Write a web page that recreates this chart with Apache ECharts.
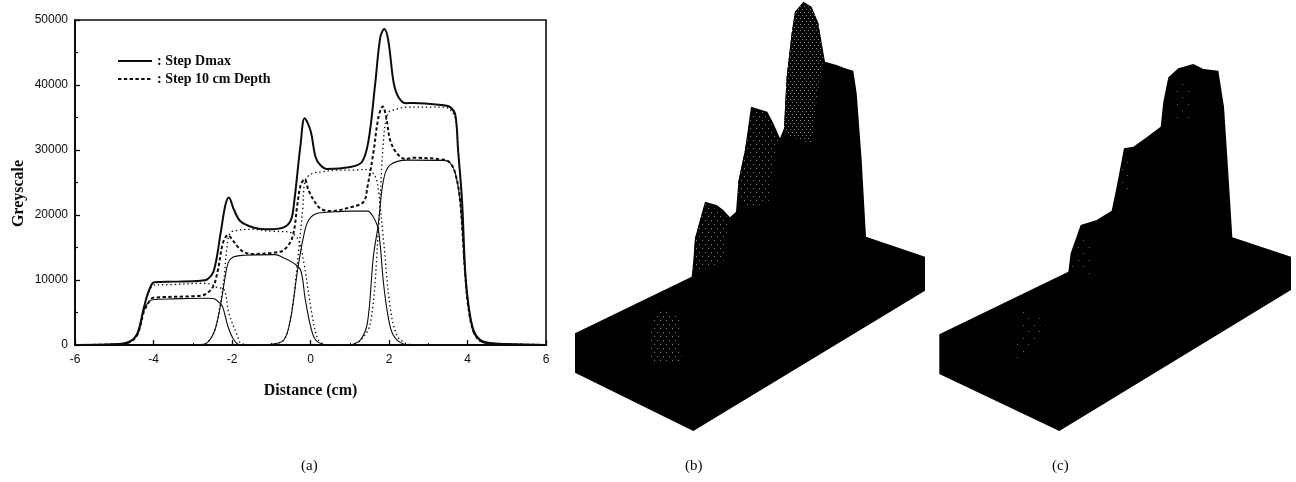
<!DOCTYPE html>
<html>
<head>
<meta charset="utf-8">
<style>html,body{margin:0;padding:0;background:#fff}#c{width:1296px;height:482px}</style>
<script src="https://cdn.jsdelivr.net/npm/echarts@6/dist/echarts.min.js"></script>
</head>
<body>
<div id="c"></div>
<script>
// Panel (a): [distance cm, greyscale]
const dmaxTotal = [[-6,0],[-5,100],[-4.62,500],[-4.41,1800],[-4.24,5900],[-4.11,8460],[-3.98,9650],[-3.47,9750],[-2.8,9900],[-2.63,10100],[-2.46,11500],[-2.29,17200],[-2.17,21500],[-2.08,22700],[-1.95,20800],[-1.78,19000],[-1.44,18050],[-1.1,17800],[-0.68,18100],[-0.5,19200],[-0.42,21800],[-0.25,31000],[-0.15,34900],[0,33000],[0.13,28900],[0.25,27700],[0.42,27080],[1.02,27400],[1.31,28150],[1.48,31500],[1.65,40300],[1.78,47400],[1.88,48600],[1.98,46900],[2.12,40300],[2.24,38150],[2.42,37200],[2.62,37250],[3.38,36900],[3.56,36600],[3.69,35400],[3.76,30000],[3.86,22300],[3.94,11500],[4.02,6400],[4.15,2300],[4.32,800],[4.57,300],[5,150],[6,0]];
const depthTotal = [[-6,0],[-5,100],[-4.62,400],[-4.41,1600],[-4.24,5200],[-4.07,7000],[-3.98,7300],[-3,7500],[-2.72,7700],[-2.49,8900],[-2.36,11500],[-2.23,15700],[-2.1,16900],[-1.98,16100],[-1.85,15100],[-1.7,14300],[-1.5,14000],[-0.93,14200],[-0.68,14600],[-0.46,16600],[-0.33,21800],[-0.25,24600],[-0.15,25500],[-0.05,23800],[0.08,22300],[0.25,21000],[0.5,20600],[1.02,21200],[1.35,22000],[1.45,24300],[1.6,29500],[1.73,35000],[1.84,36700],[1.93,35000],[2.03,31500],[2.2,29500],[2.42,28600],[2.6,28800],[3.4,28500],[3.56,28000],[3.69,26400],[3.81,22300],[3.94,11000],[4.02,5900],[4.15,2100],[4.32,700],[4.6,250],[5,120],[6,0]];
const dmaxStep1 = [[-4.8,0],[-4.62,400],[-4.41,1600],[-4.24,5400],[-4.11,6700],[-3.98,7000],[-3.5,7100],[-2.6,7200],[-2.45,7100],[-2.34,6600],[-2.24,5900],[-2.1,2800],[-1.95,770],[-1.78,0],[-1.5,0]];
const dmaxStep2 = [[-3,0],[-2.72,100],[-2.54,1000],[-2.41,2800],[-2.28,6500],[-2.2,9500],[-2.1,12600],[-1.98,13500],[-1.7,13800],[-0.9,13900],[-0.68,13400],[-0.43,12600],[-0.25,11500],[-0.13,6900],[0.05,1800],[0.2,400],[0.5,0]];
const dmaxStep3 = [[-1.02,100],[-0.68,770],[-0.5,4300],[-0.33,11500],[-0.18,16600],[-0.05,19200],[0.2,20300],[0.65,20500],[1.02,20600],[1.45,20600],[1.6,19700],[1.73,17700],[1.86,9500],[1.98,4300],[2.11,1500],[2.37,150],[2.6,0]];
const dmaxStep4 = [[1.02,0],[1.27,770],[1.45,3400],[1.6,13500],[1.73,18700],[1.86,25400],[2.03,27700],[2.47,28450],[3.4,28400],[3.56,28000],[3.69,26400],[3.81,22300],[3.94,11200],[4.02,6100],[4.15,2200],[4.32,600],[4.6,100]];
const depthStep1 = [[-4.8,0],[-4.62,450],[-4.41,1700],[-4.24,6000],[-4.11,8300],[-3.98,9200],[-3.5,9300],[-2.72,9500],[-2.5,9300],[-2.4,8900],[-2.2,8500],[-2.08,4900],[-1.85,1200],[-1.78,300],[-1.5,0]];
const depthStep2 = [[-3,0],[-2.72,100],[-2.54,1000],[-2.41,2800],[-2.28,7000],[-2.2,10500],[-2.13,15000],[-2.05,17200],[-1.9,17600],[-1.5,17800],[-1,17500],[-0.58,17400],[-0.33,16400],[-0.18,13000],[0.05,4300],[0.2,770],[0.38,0]];
const depthStep3 = [[-1.02,100],[-0.68,770],[-0.5,4300],[-0.3,14600],[-0.2,20800],[-0.13,25400],[0.05,26400],[0.25,26600],[0.69,26900],[1.02,26900],[1.45,27000],[1.65,25900],[1.73,23800],[1.86,16100],[2.03,5800],[2.2,1500],[2.42,300],[2.7,0]];
const depthStep4 = [[1.02,0],[1.27,700],[1.53,3400],[1.73,17700],[1.86,31500],[1.98,35700],[2.2,36300],[2.47,36600],[3.4,36600],[3.56,36200],[3.69,34800],[3.76,30000],[3.86,21500],[3.94,11000],[4.02,5900],[4.15,2000],[4.32,600],[4.6,200]];

const xTicks = [-6, 6, 2];
const yTicks = [0, 50000, 10000];
const legendNames = ['Step Dmax', 'Step 10 cm Depth'];
const panelLabels = ['(a)', '(b)', '(c)'];

const reliefB = [[45,1000],[395,830],[400,780],[405,715],[435,605],[470,615],[490,630],[510,652],[528,635],[535,545],[555,450],[573,320],[622,335],[640,370],[660,415],[672,385],[680,230],[695,100],[705,35],[730,5],[755,20],[775,70],[795,185],[830,195],[855,205],[880,212],[890,280],[905,480],[918,710],[1095,770],[1095,872],[400,1293],[45,1118]];
const stippleB = [
  [[705,35],[730,10],[755,25],[775,70],[790,180],[770,300],[755,430],[690,410],[672,385],[680,230],[695,100]],
  [[575,325],[620,340],[655,415],[640,500],[625,610],[560,620],[535,600],[535,545],[555,450]],
  [[435,610],[490,640],[505,655],[490,790],[420,810],[400,810],[405,715]],
  [[295,920],[360,950],[365,1090],[270,1090],[270,990]]
];
const reliefC = [[58,1003],[445,815],[452,760],[482,675],[530,660],[575,632],[590,560],[612,445],[640,440],[680,412],[722,380],[730,305],[745,232],[775,205],[820,192],[850,207],[895,212],[912,320],[925,520],[937,712],[1113,770],[1113,870],[418,1293],[58,1122]];
const stippleC = [
  [[760,250],[810,250],[810,360],[770,370]],
  [[615,450],[640,530],[625,590],[600,540]],
  [[480,690],[515,720],[510,840],[450,800]],
  [[310,920],[380,970],[350,1030],[300,1080],[280,1070]]
];

function dotTile(w, h, col) {
  const t = document.createElement('canvas');
  t.width = w; t.height = h;
  const g = t.getContext('2d');
  g.fillStyle = '#000'; g.fillRect(0, 0, w, h);
  g.fillStyle = col; g.fillRect(0, 0, 1, 1);
  g.fillRect(Math.floor(w / 2), Math.floor(h / 2), 1, 1);
  return {image: t, repeat: 'repeat'};
}
const denseDots = dotTile(4, 6, '#8a8a8a');
const mediumDots = dotTile(6, 8, '#808080');
const sparseDots = dotTile(11, 13, '#666');

const serif = '"Liberation Serif","DejaVu Serif",serif';
const sans = '"Liberation Sans",Arial,sans-serif';
const ink = '#0c0c0c';

function curve(name, data, width, dash) {
  return {
    name, type: 'line', data, xAxisIndex: 0, yAxisIndex: 0, showSymbol: false, symbol: 'none',
    smooth: 0.35, z: width > 1.5 ? 4 : 3, silent: true,
    lineStyle: {color: ink, width, type: dash || 'solid'}, itemStyle: {color: ink}
  };
}
function poly(id, outline, axis, fill) {
  return {
    id, type: 'custom', xAxisIndex: axis, yAxisIndex: axis, clip: false, silent: true,
    coordinateSystem: 'cartesian2d', data: [[0, 0]], z: id.indexOf('dots') >= 0 ? 3 : 2,
    renderItem: (p, api) => ({
      type: 'polygon',
      shape: {points: outline.map(q => api.coord(q))},
      style: {fill: fill, stroke: null}
    })
  };
}
function hiddenAxis(max, gridIndex, inverse) {
  return {type: 'value', gridIndex, min: 0, max, inverse: !!inverse, show: false, splitLine: {show: false}};
}
const dotted = [1.4, 2.8];
const dashed = [3.4, 2.4];

const series = [
  curve(legendNames[0], dmaxTotal, 2),
  curve(legendNames[1], depthTotal, 2, dashed),
  curve('d1', dmaxStep1, 1.1), curve('d2', dmaxStep2, 1.1), curve('d3', dmaxStep3, 1.1), curve('d4', dmaxStep4, 1.1),
  curve('t1', depthStep1, 1.3, dotted), curve('t2', depthStep2, 1.3, dotted), curve('t3', depthStep3, 1.3, dotted), curve('t4', depthStep4, 1.3, dotted),
  poly('reliefB', reliefB, 1, '#000'),
  poly('reliefC', reliefC, 2, '#000')
];
stippleB.forEach((s, i) => series.push(poly('dotsB' + i, s, 1, i === 0 ? denseDots : mediumDots)));
stippleC.forEach((s, i) => series.push(poly('dotsC' + i, s, 2, sparseDots)));

const option = {
  animation: false,
  backgroundColor: '#fff',
  grid: [
    {left: 75, top: 20, width: 471, height: 325, show: true, borderColor: ink, borderWidth: 1.6, backgroundColor: 'transparent'},
    {left: 560, top: 0, width: 370, height: 482},
    {left: 920, top: 0, width: 376, height: 482}
  ],
  xAxis: [
    {type: 'value', gridIndex: 0, min: xTicks[0], max: xTicks[1], interval: xTicks[2],
     name: 'Distance (cm)', nameLocation: 'middle', nameGap: 38,
     nameTextStyle: {fontFamily: serif, fontWeight: 'bold', fontSize: 16, color: ink},
     axisLine: {onZero: false, lineStyle: {color: ink, width: 2}},
     axisTick: {inside: true, length: 5, lineStyle: {color: ink, width: 1.3}},
     minorTick: {show: true, splitNumber: 2, length: 2, lineStyle: {color: ink, width: 1}},
     axisLabel: {fontFamily: sans, fontSize: 12, color: ink, margin: 9, showMinLabel: true, showMaxLabel: true},
     splitLine: {show: false}},
    hiddenAxis(1110, 1),
    hiddenAxis(1128, 2)
  ],
  yAxis: [
    {type: 'value', gridIndex: 0, min: yTicks[0], max: yTicks[1], interval: yTicks[2],
     name: 'Greyscale', nameLocation: 'middle', nameGap: 48, nameRotate: 90,
     nameTextStyle: {fontFamily: serif, fontWeight: 'bold', fontSize: 16, color: ink, padding: [0, 22, 0, 0]},
     axisLine: {onZero: false, lineStyle: {color: ink, width: 2}},
     axisTick: {inside: true, length: 5, lineStyle: {color: ink, width: 1.3}},
     minorTick: {show: true, splitNumber: 2, length: 3, lineStyle: {color: ink, width: 1.2}},
     axisLabel: {fontFamily: sans, fontSize: 12, color: ink, margin: 7, formatter: v => String(v)},
     splitLine: {show: false}},
    hiddenAxis(1446, 1, true),
    hiddenAxis(1446, 2, true)
  ],
  legend: {
    show: true, data: legendNames, orient: 'vertical', left: 117, top: 54, padding: 0,
    itemWidth: 34, itemHeight: 10, itemGap: 4, selectedMode: false,
    itemStyle: {opacity: 0},
    formatter: n => ': ' + n,
    textStyle: {fontFamily: serif, fontWeight: 'bold', fontSize: 14, color: ink}
  },
  graphic: panelLabels.map((t, i) => ({
    type: 'text', left: [301, 685, 1052][i], top: 459,
    style: {text: t, font: '15px ' + serif, fill: ink}
  })),
  series
};
const chart = echarts.init(document.getElementById('c'), null, {renderer: 'canvas'});
chart.setOption(option);
</script>
</body>
</html>
